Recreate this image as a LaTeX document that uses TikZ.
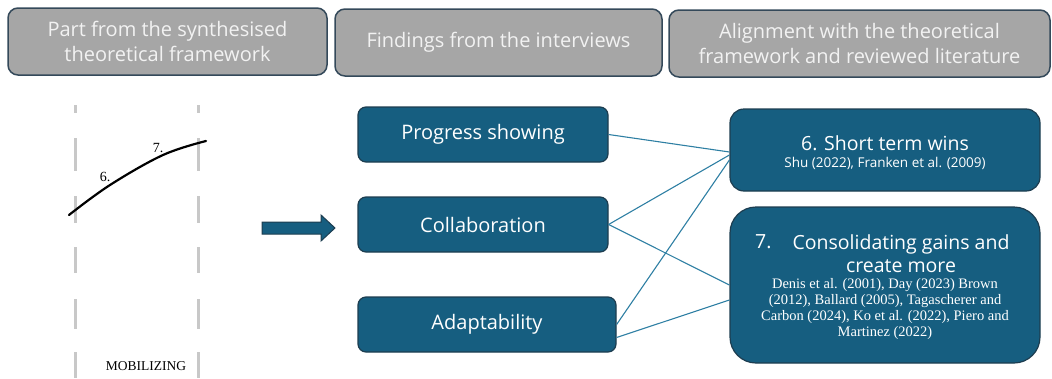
\documentclass[tikz,border=0pt]{standalone}
\usepackage{fontspec}
\setmainfont{Liberation Serif}
\newfontfamily\uisans{Open Sans}
\definecolor{hdfill}{HTML}{A6A6A6}
\definecolor{hdedge}{HTML}{34495A}
\definecolor{hdtext}{HTML}{F2F2F2}
\definecolor{tealbox}{HTML}{165E80}
\definecolor{boxedge}{HTML}{1D3D50}
\definecolor{linkc}{HTML}{2E7FA3}
\definecolor{phasegray}{HTML}{C8C8C8}
\tikzset{
  head/.style={draw=hdedge, line width=1.5pt, fill=hdfill, rounded corners=10pt,
    text=hdtext, align=center, inner sep=0pt, minimum height=67pt,
    font=\uisans\fontsize{20}{25}\selectfont},
  find/.style={draw=boxedge, line width=1.2pt, fill=tealbox, rounded corners=8pt,
    text=white, inner sep=0pt, minimum height=55pt,
    font=\uisans\fontsize{20}{23}\selectfont},
  lit/.style={draw=boxedge, line width=1.2pt, fill=tealbox, inner sep=0pt,
    minimum width=310pt},
  littitle/.style={text=white, inner sep=0pt, align=center,
    font=\uisans\fontsize{19.5}{23}\selectfont},
  litref/.style={text=white, inner sep=0pt, align=center},
  link/.style={draw=linkc, line width=1.1pt},
  phase/.style={draw=phasegray, line width=3pt},
  curvelabel/.style={inner sep=0pt, font=\fontsize{14}{14}\selectfont}
}
\begin{document}
\begin{tikzpicture}[x=1pt,y=-1pt]
\useasboundingbox (0,0) rectangle (1052,378);

% column headers
\node[head, minimum width=319pt] (h1) at (167.5,41.5) {Part from the synthesised\\theoretical framework};
\node[head, minimum width=327pt] (h2) at (498.5,42.5) {Findings from the interviews};
\node[head, minimum width=381pt] (h3) at (859.5,43.5) {Alignment with the theoretical\\framework and reviewed literature};

% excerpt of the change curve: phase boundaries
\foreach \x in {75,198}
  \foreach \a/\b in {105/113,138/171,196/223,247/273,299/329,352/378}
    \draw[phase] (\x,\a) -- (\x,\b);
\draw[line width=2.2pt, line cap=round] plot[smooth, tension=0.6]
  coordinates {(69,215) (110,185) (163,155) (206,141)};
\node[curvelabel] (s6) at (105,177) {6.};
\node[curvelabel] (s7) at (158,148) {7.};
\node[inner sep=0pt, font=\fontsize{13.5}{14}\selectfont] (mob) at (146,366) {MOBILIZING};

% block arrow
\draw[fill=tealbox, draw=boxedge, line width=1pt]
  (262,222) -- (321,222) -- (321,215) -- (335,228) -- (321,241) -- (321,234) -- (262,234) -- cycle;

% findings
\node[find, minimum width=250pt] (prog) at (483,134.5) {Progress showing};
\node[find, minimum width=250pt] (collab) at (483,224.5) {Collaboration};
\node[find, minimum width=258pt] (adapt) at (487,324.5) {Adaptability};

% literature
\node[lit, minimum height=82pt, rounded corners=14pt] (win) at (885,150) {};
\node[lit, minimum height=156pt, rounded corners=26pt] (cons) at (885,285) {};

\node[littitle] (wint) at (885,143) {6. Short term wins};
\node[litref, font=\uisans\fontsize{13.5}{14}\selectfont] (winr) at (885,163) {Shu (2022), Franken et al. (2009)};

\node[littitle, anchor=west] (cnum) at (755,242) {7.};
\node[littitle] (const) at (901,253.5) {Consolidating gains and\\create more};
\node[litref, font=\fontsize{14.5}{16}\selectfont] (consr) at (885,309.5)
  {Denis et al. (2001), Day (2023) Brown\\(2012), Ballard (2005), Tagascherer and\\Carbon (2024), Ko et al. (2022), Piero and\\Martinez (2022)};

% links between findings and literature
\draw[link] (prog.east) -- ([yshift=-2pt]win.west);
\draw[link] (collab.east) -- ([yshift=-5pt]win.west);
\draw[link] (collab.east) -- (cons.west);
\draw[link] (adapt.east) -- ([yshift=-10pt]win.west);
\draw[link] ([yshift=-13pt]adapt.east) -- ([yshift=-15pt]cons.west);
\end{tikzpicture}
\end{document}
